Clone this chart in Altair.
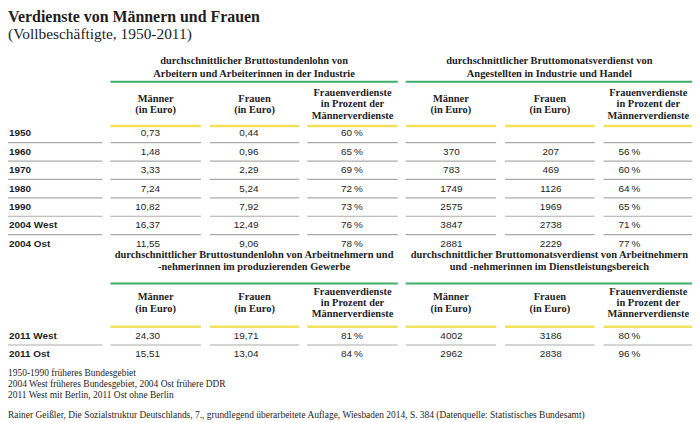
import altair as alt
import pandas as pd

# ---------------- data ----------------
title = "Verdienste von Männern und Frauen"
subtitle = "(Vollbeschäftigte, 1950-2011)"

rows_a = ["1950", "1960", "1970", "1980", "1990", "2004 West", "2004 Ost"]
arb_maenner = [0.73, 1.48, 3.33, 7.24, 10.82, 16.37, 11.55]
arb_frauen = [0.44, 0.96, 2.29, 5.24, 7.92, 12.49, 9.06]
arb_prozent = [60, 65, 69, 72, 73, 76, 78]
ang_maenner = [None, 370, 783, 1749, 2575, 3847, 2881]
ang_frauen = [None, 207, 469, 1126, 1969, 2738, 2229]
ang_prozent = [None, 56, 60, 64, 65, 71, 77]

rows_b = ["2011 West", "2011 Ost"]
prod_maenner = [24.30, 15.51]
prod_frauen = [19.71, 13.04]
prod_prozent = [81, 84]
dienst_maenner = [4002, 2962]
dienst_frauen = [3186, 2838]
dienst_prozent = [80, 96]

group_headers_a = [
    ["durchschnittlicher Bruttostundenlohn von", "Arbeitern und Arbeiterinnen in der Industrie"],
    ["durchschnittlicher Bruttomonatsverdienst von", "Angestellten in Industrie und Handel"],
]
group_headers_b = [
    ["durchschnittlicher Bruttostundenlohn von Arbeitnehmern und", "-nehmerinnen im produzierenden Gewerbe"],
    ["durchschnittlicher Bruttomonatsverdienst von  Arbeitnehmern", "und -nehmerinnen im Dienstleistungsbereich"],
]
col_headers = [
    ["Männer", "(in Euro)"],
    ["Frauen", "(in Euro)"],
    ["Frauenverdienste", "in Prozent der", "Männerverdienste"],
]
notes = [
    "1950-1990 früheres Bundesgebiet",
    "2004 West früheres Bundesgebiet, 2004 Ost frühere DDR",
    "2011 West mit Berlin, 2011 Ost ohne Berlin",
]
source = ("Rainer Geißler, Die Sozialstruktur Deutschlands, 7., grundlegend überarbeitete Auflage, "
          "Wiesbaden 2014, S. 384 (Datenquelle: Statistisches Bundesamt)")

# ---------------- layout (pixel positions of the table grid) ----------------
LABEL_SPAN = (4, 99)
LABEL_X = 5
COL_SPANS = [(107, 198), (207, 297), (305, 396), (404, 495), (504, 594), (603, 693)]
COL_ANCHOR = [(157, "right"), (256, "right"), (350, "center"),
              (450, "center"), (550, "center"), (629, "center")]
GROUP_SPANS = [(107, 396), (404, 693)]
ROW_STEP = 18.5

SECTIONS = [
    dict(rows=rows_a, cols=[arb_maenner, arb_frauen, arb_prozent, ang_maenner, ang_frauen, ang_prozent],
         heads=group_headers_a, gh_y=55.5, green_y=76, ch_y=93, yellow_y=120.5, row0=128),
    dict(rows=rows_b, cols=[prod_maenner, prod_frauen, prod_prozent, dienst_maenner, dienst_frauen, dienst_prozent],
         heads=group_headers_b, gh_y=250, green_y=279, ch_y=293, yellow_y=322.5, row0=331.5),
]

def fmt(v, kind):
    if v is None:
        return ""
    if kind == "dec":
        return f"{v:.2f}".replace(".", ",")
    if kind == "pct":
        return f"{v}\u2009%"
    return f"{v}"

KINDS = ["dec", "dec", "pct", "int", "int", "pct"]

texts = []
rules = []

texts.append(dict(x=4, y=11, text=title, style="title"))
texts.append(dict(x=4, y=27.5, text=subtitle, style="subtitle"))

for sec in SECTIONS:
    for g, (a, b) in enumerate(GROUP_SPANS):
        for k, line in enumerate(sec["heads"][g]):
            texts.append(dict(x=(a + b) / 2, y=sec["gh_y"] + k * 12.5, text=line, style="head"))
        rules.append(dict(x=a, x2=b, y=sec["green_y"], kind="green"))
    for c, (a, b) in enumerate(COL_SPANS):
        lines = col_headers[c % 3]
        y0 = sec["ch_y"] - (6 if len(lines) == 3 else 0)
        for k, line in enumerate(lines):
            texts.append(dict(x=(a + b) / 2, y=y0 + k * 11.5, text=line, style="head"))
        rules.append(dict(x=a, x2=b, y=sec["yellow_y"], kind="yellow"))
    n = len(sec["rows"])
    for i, lab in enumerate(sec["rows"]):
        y = sec["row0"] + i * ROW_STEP
        texts.append(dict(x=LABEL_X, y=y, text=lab, style="rowlab"))
        for c, series in enumerate(sec["cols"]):
            ax, al = COL_ANCHOR[c]
            texts.append(dict(x=ax, y=y, text=fmt(series[i], KINDS[c]),
                              style="val_" + al))
        if i < n - 1:
            ys = y + ROW_STEP / 2
            rules.append(dict(x=LABEL_SPAN[0], x2=LABEL_SPAN[1], y=ys, kind="gray"))
            for a, b in COL_SPANS:
                rules.append(dict(x=a, x2=b, y=ys, kind="gray"))

for k, line in enumerate(notes):
    texts.append(dict(x=4, y=369 + k * 11, text=line, style="note"))
texts.append(dict(x=4, y=411, text=source, style="note"))

tdf = pd.DataFrame(texts)
rdf = pd.DataFrame(rules)

# ---------------- chart ----------------
W, H = 688, 412
xs = alt.Scale(domain=[4, 4 + W], nice=False, zero=False)
ys = alt.Scale(domain=[3, 3 + H], nice=False, zero=False, reverse=True)
X = alt.X("x:Q", scale=xs, axis=None)
Y = alt.Y("y:Q", scale=ys, axis=None)

INK = "#1e1e1e"
SERIF = "Liberation Serif"
SANS = "Liberation Sans"

STYLES = {
    "title": dict(font=SERIF, fontSize=16, fontWeight="bold", align="left"),
    "subtitle": dict(font=SERIF, fontSize=15.5, fontWeight="normal", align="left"),
    "head": dict(font=SERIF, fontSize=10.5, fontWeight="bold", align="center"),
    "rowlab": dict(font=SANS, fontSize=10, fontWeight="bold", align="left"),
    "val_right": dict(font=SANS, fontSize=10, fontWeight="normal", align="right"),
    "val_center": dict(font=SANS, fontSize=10, fontWeight="normal", align="center"),
    "note": dict(font=SERIF, fontSize=9.5, fontWeight="normal", align="left"),
}

base_t = alt.Chart(tdf)
layers = []

RULE_STYLE = {"gray": ("#ababab", 1.2), "yellow": ("#f1e15b", 2.5), "green": ("#3fae6a", 2)}
base_r = alt.Chart(rdf)
for kind, (col, sw) in RULE_STYLE.items():
    layers.append(
        base_r.transform_filter(alt.datum.kind == kind)
        .mark_rule(color=col, strokeWidth=sw)
        .encode(x=X, x2="x2:Q", y=Y)
    )

for st, props in STYLES.items():
    layers.append(
        base_t.transform_filter(alt.datum.style == st)
        .mark_text(baseline="middle", color=INK, **props)
        .encode(x=X, y=Y, text="text:N")
    )

chart = (
    alt.layer(*layers)
    .properties(width=W, height=H, padding=0, autosize="none", background="white")
    .configure_view(stroke=None)
)

chart.save("out.html", embed_options={"renderer": "svg", "actions": False})
